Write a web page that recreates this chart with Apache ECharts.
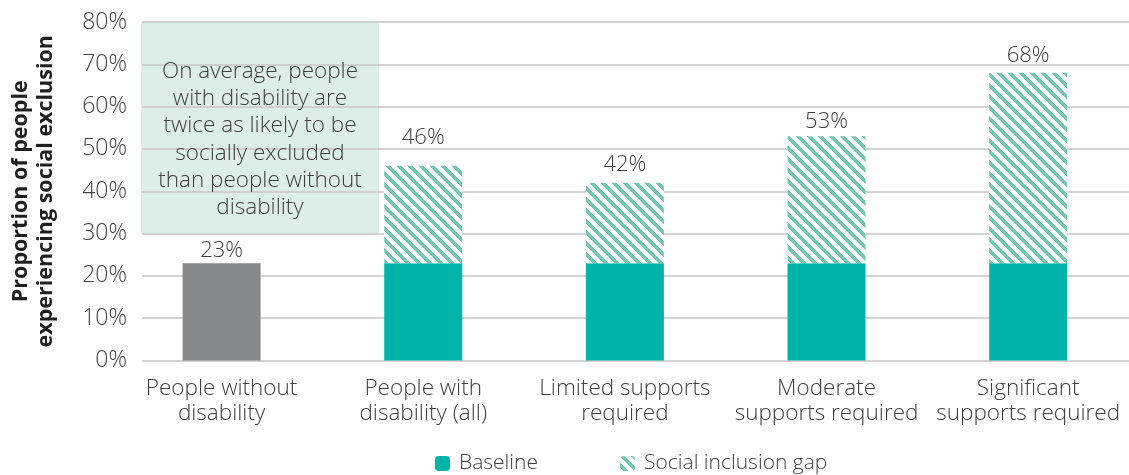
<!DOCTYPE html>
<html>
<head>
<meta charset="utf-8">
<script src="https://cdn.jsdelivr.net/npm/echarts@6/dist/echarts.min.js"></script>
<style>
  html, body { margin: 0; padding: 0; background: #fff; }
  #chart { width: 1129px; height: 475px; }
</style>
</head>
<body>
<div id="chart"></div>
<script>
// Chart data
const categories = [
  'People without\ndisability',
  'People with\ndisability (all)',
  'Limited supports\nrequired',
  'Moderate\nsupports required',
  'Significant\nsupports required'
];
const baseline = [23, 23, 23, 23, 23];
const totals = [23, 46, 42, 53, 68];
const seriesNames = ['Baseline', 'Social inclusion gap'];
const yTicks = { min: 0, max: 80, interval: 10 };
const noteLines = [
  'On average, people',
  'with disability are',
  'twice as likely to be',
  'socially excluded',
  'than people without',
  'disability'
];
const noteRange = [30, 80];

const gap = totals.map((t, i) => t - baseline[i]);

const FONT = '"Open Sans", "Noto Sans", sans-serif';
const TEXT = '#404040';
const TEAL = '#00b3a9';
const GREY = '#86888c';
const HATCH = '#72c6b4';
const FS = 22.5;

// Hand-placed spacing between each total label and its bar top
const labelDistance = [1, 17, 7.5, 3.5, 6.5];

// Diagonal hatch tile for the gap segment
function makeHatch() {
  const size = 11;
  const c = document.createElement('canvas');
  c.width = size; c.height = size;
  const ctx = c.getContext('2d');
  ctx.fillStyle = '#ffffff';
  ctx.fillRect(0, 0, size, size);
  ctx.fillStyle = HATCH;
  for (let y = 0; y < size; y++) {
    for (let x = 0; x < size; x++) {
      if ((((x - y) % size) + size) % size < 5) ctx.fillRect(x, y, 1, 1);
    }
  }
  return c;
}
const hatchPattern = { image: makeHatch(), repeat: 'repeat' };

const chart = echarts.init(document.getElementById('chart'), null, { renderer: 'canvas' });

const option = {
  animation: false,
  textStyle: { fontFamily: FONT },
  grid: [
    { left: 137, right: 0, top: 22, height: 338.5 },
    { left: 120.75, width: 1012.5, top: 22, height: 338.5 }
  ],
  xAxis: [
    { type: 'value', gridIndex: 0, show: false, min: 0, max: 1 },
    {
      type: 'category', gridIndex: 1, data: categories,
      axisLine: { show: false }, axisTick: { show: false },
      axisLabel: { interval: 0, fontSize: FS, lineHeight: 25, margin: 16, color: TEXT, fontWeight: 300, fontFamily: FONT }
    }
  ],
  yAxis: [
    {
      type: 'value', gridIndex: 0, min: yTicks.min, max: yTicks.max, interval: yTicks.interval,
      z: 1,
      axisLine: { show: false }, axisTick: { show: false },
      axisLabel: { formatter: '{value}%', fontSize: 23, margin: 15, color: TEXT, fontWeight: 300, fontFamily: FONT },
      splitLine: { lineStyle: { color: '#c6c6c6', width: 1.5 } },
      name: 'Proportion of people\nexperiencing social exclusion',
      nameLocation: 'middle', nameGap: 84,
      nameTextStyle: { fontSize: 21.5, fontWeight: 'bold', color: '#1f1f1f', lineHeight: 25, fontFamily: FONT }
    },
    { type: 'value', gridIndex: 1, min: yTicks.min, max: yTicks.max, show: false }
  ],
  legend: {
    data: seriesNames,
    left: 435, top: 453, padding: 0,
    itemWidth: 15, itemHeight: 15, itemGap: 82,
    textStyle: { fontSize: 21, color: TEXT, fontWeight: 300, fontFamily: FONT, padding: [0, 0, 0, 4] }
  },
  series: [
    {
      name: seriesNames[0], type: 'bar', xAxisIndex: 1, yAxisIndex: 1, stack: 'total',
      barWidth: 78, z: 3,
      itemStyle: { color: TEAL },
      data: baseline.map((v, i) => i === 0 ? { value: v, itemStyle: { color: GREY } } : v)
    },
    {
      name: seriesNames[1], type: 'bar', xAxisIndex: 1, yAxisIndex: 1, stack: 'total',
      barWidth: 78, z: 3,
      itemStyle: { color: hatchPattern },
      label: {
        show: true, position: 'top',
        fontSize: 22, color: TEXT, fontWeight: 300, fontFamily: FONT,
        formatter: p => totals[p.dataIndex] + '%'
      },
      data: gap.map((v, i) => ({ value: v, label: { distance: labelDistance[i] } }))
    }
  ]
};
chart.setOption(option);

// Annotation panel spanning the 30%–80% band beside the first bars
const yTop = chart.convertToPixel({ yAxisIndex: 0 }, noteRange[1]);
const yBot = chart.convertToPixel({ yAxisIndex: 0 }, noteRange[0]);
chart.setOption({
  graphic: [
    {
      type: 'rect', z: 0, silent: true,
      shape: { x: 141, y: yTop, width: 238, height: yBot - yTop },
      style: { fill: '#ddeee8' }
    },
    {
      type: 'text', z: 4, silent: true, x: 260, y: 58,
      style: {
        text: noteLines.join('\n'),
        font: '300 22.5px ' + FONT,
        fill: TEXT, align: 'center', lineHeight: 27.2
      }
    }
  ]
});
</script>
</body>
</html>
